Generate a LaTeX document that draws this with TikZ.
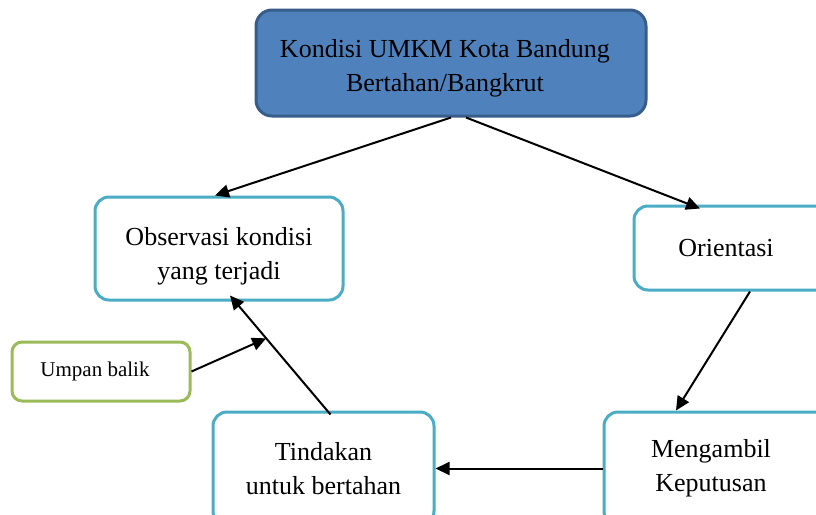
\documentclass[tikz,border=0pt]{standalone}
\usepackage{fontspec}
\setmainfont{Liberation Serif}
\usetikzlibrary{arrows.meta}
\definecolor{topfill}{HTML}{4F81BD}
\definecolor{topline}{HTML}{385D8A}
\definecolor{aqua}{HTML}{4BACC6}
\definecolor{olive}{HTML}{9BBB59}
\newcommand\lift[1]{\rule{0pt}{#1}}
\tikzset{
  boxbase/.style={rectangle, rounded corners=14pt, line width=3pt, align=center, inner sep=0pt,
    font=\fontsize{26}{34}\selectfont},
  topbox/.style={boxbase, draw=topline, fill=topfill, rounded corners=16pt},
  stagebox/.style={boxbase, draw=aqua, fill=white},
  fbbox/.style={boxbase, draw=olive, fill=white, rounded corners=10pt, font=\fontsize{21}{26}\selectfont},
  conn/.style={line width=2pt, -{Triangle[length=14pt,width=13pt]}}
}
\begin{document}
\begin{tikzpicture}[x=1pt,y=-1pt]
\clip (0,0) rectangle (816,514);
\fill[white] (0,0) rectangle (816,514);
\node[topbox, minimum width=390pt, minimum height=106pt] (top) at (451,63)
  {\hspace*{-12pt}\lift{28pt}Kondisi UMKM Kota Bandung\\\hspace*{-12pt}Bertahan/Bangkrut};
\node[stagebox, minimum width=248pt, minimum height=103pt] (obs) at (219,248.5)
  {\lift{34pt}Observasi kondisi\\yang terjadi};
\node[stagebox, minimum width=200pt, minimum height=84pt] (ori) at (734,248) {\hspace*{-16pt}Orientasi};
\node[stagebox, minimum width=230pt, minimum height=113pt] (meng) at (719,468.5) {\hspace*{-16pt}Mengambil\\\hspace*{-16pt}Keputusan};
\node[stagebox, minimum width=221pt, minimum height=113pt] (tind) at (323.5,468.5) {Tindakan\\untuk bertahan};
\node[fbbox, minimum width=178pt, minimum height=59pt] (fb) at (101,371.5) {\hspace*{-12pt}Umpan balik};
\draw[conn] (top.south) -- ([xshift=-4pt]obs.north);
\draw[conn] ([xshift=15pt]top.south) -- ([xshift=-34pt,yshift=-4pt]ori.north);
\draw[conn] ([xshift=16pt]ori.south) -- ([xshift=-43pt]meng.north);
\draw[conn] (meng.west) -- (tind.east);
\draw[conn] ([xshift=7pt,yshift=-4pt]tind.north) -- coordinate[pos=0.64] (join) ([xshift=11pt,yshift=6pt]obs.south);
\draw[conn] (fb.east) -- (join);
\end{tikzpicture}
\end{document}
